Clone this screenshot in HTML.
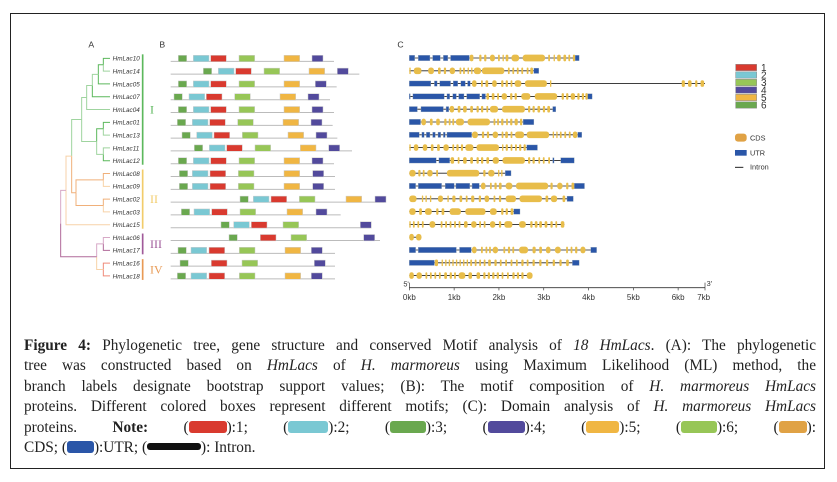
<!DOCTYPE html>
<html><head><meta charset="utf-8">
<style>
html,body{margin:0;padding:0;background:#fff;}
body{width:837px;height:482px;position:relative;overflow:hidden;font-family:"Liberation Sans",sans-serif;}
#frame{position:absolute;left:10px;top:13px;width:815px;height:456px;border:1.3px solid #222;box-sizing:border-box;}
#cap{position:absolute;left:24px;top:336px;width:792px;font-family:"Liberation Serif",serif;font-size:15.3px;color:#222;}
#cap .ln{height:20.4px;line-height:20.4px;text-align:justify;text-align-last:justify;white-space:nowrap;}
.sw{display:inline-block;height:12px;border-radius:3px;vertical-align:-1px;}
svg{position:absolute;left:0;top:0;}
</style></head><body>
<div id="frame"></div>
<svg id="fig" width="837" height="482">
  <g id="gAB" transform="translate(50,30) scale(0.33333)"></g>
  <g id="gC" transform="translate(390,30) scale(0.33333)"></g>
</svg>
<div id="cap">
<div class="ln"><b>Figure 4:</b> Phylogenetic tree, gene structure and conserved Motif analysis of <i>18 HmLacs</i>. (A): The phylogenetic</div>
<div class="ln">tree was constructed based on <i>HmLacs</i> of <i>H. marmoreus</i> using Maximum Likelihood (ML) method, the</div>
<div class="ln">branch labels designate bootstrap support values; (B): The motif composition of <i>H. marmoreus HmLacs</i></div>
<div class="ln">proteins. Different colored boxes represent different motifs; (C): Domain analysis of <i>H. marmoreus HmLacs</i></div>
<div class="ln">proteins. <b>Note:</b> (<span class="sw" style="width:38px;background:#d93a2f"></span>):1; (<span class="sw" style="width:40px;background:#7ac8d3"></span>):2; (<span class="sw" style="width:36px;background:#6aa84f"></span>):3; (<span class="sw" style="width:37px;background:#524a9c"></span>):4; (<span class="sw" style="width:33px;background:#f0b643"></span>):5; (<span class="sw" style="width:36px;background:#97c657"></span>):6; (<span class="sw" style="width:28px;background:#e0a245"></span>):</div>
<div class="ln" style="text-align-last:left">CDS; (<span class="sw" style="width:27px;background:#2a56a8"></span>):UTR; (<span class="sw" style="width:54px;background:#111;height:7px;vertical-align:2px"></span>): Intron.</div>
</div>
<script>
const NS="http://www.w3.org/2000/svg";
// ---- data ----
const genes=["HmLac10","HmLac14","HmLac05","HmLac07","HmLac04","HmLac01","HmLac13","HmLac11","HmLac12","HmLac08","HmLac09","HmLac02","HmLac03","HmLac15","HmLac06","HmLac17","HmLac16","HmLac18"];
const protLen=[490,566,498,478,490,486,500,544,490,493,493,640,510,598,628,493,493,493];
const m3=[23,98,23,10,23,20,34,71,23,26,26,208,32,151,175,22,28,20];
const m2=[68,143,68,55,68,65,78,116,68,65,65,248,70,189,null,61,null,61];
const m1=[120,195,120,107,120,117,130,168,120,118,118,301,123,242,269,115,122,115];
const m6=[205,280,205,192,205,201,215,253,205,203,203,386,208,337,361,206,214,206];
const m5=[340,415,340,328,340,337,352,389,340,340,340,526,349,null,null,343,null,343];
const m4=[424,500,434,412,424,421,436,474,424,426,426,613,436,569,579,422,431,422];
const geneLen=[3.79,2.89,6.6,4.08,3.27,2.78,3.85,2.86,3.68,2.27,3.91,3.66,2.47,3.46,0.27,4.18,3.79,2.75];
const utr=[
[[0,0.12],[0.2,0.46],[0.52,0.69],[0.76,0.86],[0.92,1.34],[3.7,3.79]],
[[2.78,2.89]],
[[0,0.48],[0.56,0.62],[0.68,0.92],[0.98,1.08],[1.15,1.25],[1.3,1.36]],
[[0,0.02],[0.08,0.78],[0.84,0.9],[0.97,1.05],[1.1,1.22],[1.28,1.57],[1.62,1.7],[3.98,4.08]],
[[0,0.18],[0.26,0.76],[0.82,0.88],[3.2,3.27]],
[[0,0.25],[2.54,2.78]],
[[0,0.22],[0.28,0.33],[0.38,0.46],[0.52,0.58],[0.64,0.7],[0.76,0.8],[0.84,1.39],[3.76,3.85]],
[[2.62,2.86]],
[[0,0.6],[0.66,0.9],[3.2,3.23],[3.38,3.68]],
[[2.14,2.27]],
[[0,0.14],[0.2,0.72],[0.8,1.0],[1.04,1.35],[1.4,1.56],[3.68,3.91]],
[[3.52,3.66]],
[[2.33,2.47]],
[],
[],
[[0,0.14],[0.2,1.05],[1.12,1.38],[4.05,4.18]],
[[0,0.56],[3.64,3.79]],
[]];
const cds=[
[[1.35,1.43],[1.56,1.61],[1.67,1.72],[1.8,1.91],[1.98,2.02],[2.08,2.11],[2.15,2.21],[2.28,2.45],[2.53,3.03],[3.1,3.14],[3.22,3.25],[3.3,3.38],[3.44,3.5],[3.55,3.59],[3.65,3.7]],
[[0,0.02],[0.1,0.27],[0.42,0.55],[0.64,0.7],[0.77,0.82],[0.9,1.02],[1.12,1.16],[1.2,1.24],[1.3,1.33],[1.38,1.4],[1.44,1.6],[1.62,2.12],[2.2,2.24],[2.3,2.34],[2.4,2.44],[2.5,2.54],[2.62,2.66],[2.7,2.76]],
[[1.4,1.5],[1.6,1.64],[1.7,1.76],[1.85,1.95],[2.05,2.1],[2.15,2.2],[2.26,2.3],[2.35,2.5],[2.58,3.07],[3.14,3.16],[6.08,6.15],[6.22,6.3],[6.38,6.43],[6.5,6.58]],
[[1.72,1.78],[1.84,1.9],[1.96,2.0],[2.06,2.18],[2.25,2.3],[2.35,2.4],[2.5,2.7],[2.8,3.3],[3.4,3.45],[3.5,3.55],[3.6,3.7],[3.75,3.8],[3.85,3.9],[3.93,3.98]],
[[0.9,1.0],[1.08,1.14],[1.2,1.28],[1.36,1.42],[1.5,1.55],[1.6,1.65],[1.72,1.76],[1.8,1.98],[2.07,2.58],[2.65,2.7],[2.75,2.8],[2.86,2.92],[2.98,3.03],[3.08,3.14]],
[[0.27,0.37],[0.46,0.52],[0.6,0.68],[0.78,0.83],[0.88,0.92],[0.96,1.0],[1.04,1.22],[1.3,1.8],[1.88,1.92],[1.96,2.0],[2.05,2.1],[2.16,2.2],[2.25,2.3],[2.35,2.42],[2.47,2.52]],
[[1.4,1.53],[1.62,1.67],[1.73,1.78],[1.86,1.98],[2.06,2.1],[2.14,2.2],[2.26,2.3],[2.36,2.56],[2.62,3.12],[3.2,3.22],[3.28,3.3],[3.36,3.4],[3.46,3.5],[3.56,3.6],[3.65,3.75]],
[[0,0.02],[0.1,0.2],[0.3,0.4],[0.48,0.54],[0.62,0.68],[0.76,0.88],[0.96,1.0],[1.05,1.1],[1.15,1.2],[1.25,1.43],[1.5,2.0],[2.07,2.1],[2.15,2.2],[2.26,2.3],[2.36,2.4],[2.45,2.5],[2.55,2.6]],
[[0.92,1.0],[1.08,1.12],[1.2,1.28],[1.36,1.42],[1.5,1.55],[1.6,1.65],[1.72,1.78],[1.86,2.0],[2.08,2.58],[2.65,2.7],[2.75,2.8],[2.88,2.92],[2.98,3.02],[3.1,3.14]],
[[0,0.14],[0.2,0.25],[0.3,0.34],[0.4,0.52],[0.6,0.64],[0.84,1.56],[1.65,1.7],[1.76,1.9],[1.98,2.0],[2.05,2.08]],
[[1.6,1.7],[1.8,1.84],[1.9,1.95],[2.0,2.06],[2.15,2.3],[2.38,3.1],[3.15,3.2],[3.3,3.42],[3.5,3.55],[3.62,3.68]],
[[0,0.16],[0.28,0.3],[0.36,0.38],[0.46,0.48],[0.64,0.75],[0.85,0.88],[0.96,1.03],[1.12,1.18],[1.26,1.3],[1.38,1.45],[1.55,1.6],[1.68,1.78],[1.88,1.92],[2.0,2.05],[2.15,2.38],[2.46,2.96],[3.04,3.1],[3.16,3.3],[3.42,3.48]],
[[0,0.14],[0.22,0.28],[0.35,0.5],[0.6,0.65],[0.72,0.78],[0.9,1.15],[1.25,1.7],[1.8,1.95],[2.05,2.1],[2.15,2.2],[2.26,2.32]],
[[0,0.02],[0.08,0.12],[0.18,0.22],[0.28,0.32],[0.45,0.58],[0.7,0.74],[0.8,0.84],[0.9,0.94],[1.0,1.04],[1.1,1.14],[1.22,1.3],[1.38,1.5],[1.56,1.6],[1.66,1.7],[1.8,1.92],[2.0,2.05],[2.12,2.3],[2.45,2.6],[2.7,2.75],[2.8,2.86],[2.9,2.96],[3.02,3.08],[3.15,3.2],[3.26,3.3],[3.38,3.46]],
[[0,0.1],[0.15,0.27]],
[[1.4,1.5],[1.6,1.64],[1.7,1.74],[1.78,1.82],[1.86,1.98],[2.1,2.14],[2.2,2.25],[2.3,2.34],[2.45,2.65],[2.75,2.82],[2.9,2.96],[3.05,3.15],[3.25,3.38],[3.5,3.54],[3.6,3.64],[3.7,3.75],[3.82,3.93]],
[[0.57,0.64],[0.72,0.75],[0.8,0.83],[0.88,0.91],[0.96,0.99],[1.04,1.07],[1.12,1.15],[1.2,1.23],[1.28,1.31],[1.36,1.4],[1.46,1.5],[1.56,1.6],[1.66,1.7],[1.76,1.82],[1.9,1.95],[2.02,2.06],[2.14,2.18],[2.26,2.3],[2.38,2.42],[2.5,2.55],[2.62,2.66],[2.75,2.8],[2.9,2.95],[3.05,3.1],[3.2,3.25],[3.35,3.4],[3.5,3.56]],
[[0,0.1],[0.16,0.28],[0.36,0.4],[0.46,0.5],[0.56,0.6],[0.66,0.7],[0.78,0.84],[0.9,0.95],[1.0,1.04],[1.1,1.25],[1.32,1.4],[1.5,1.58],[1.65,1.7],[1.75,1.8],[1.85,1.9],[1.95,2.0],[2.06,2.1],[2.18,2.22],[2.3,2.35],[2.4,2.45],[2.5,2.55],[2.62,2.75]]];
const kbTicks=[0,1,2,3,4,5,6];
const kbLabels=["0kb","1kb","2kb","3kb","4kb","5kb","6kb"];
const axisMaxKb=6.6;

function el(tag,attrs,parent){const e=document.createElementNS(NS,tag);for(const k in attrs)e.setAttribute(k,attrs[k]);parent.appendChild(e);return e;}
function txt(s,attrs,parent){const t=el("text",attrs,parent);t.textContent=s;return t;}

// ---- Panel A/B (zoom coordinates) ----
const AB=document.getElementById("gAB");
const rowY=i=>85+i*38.4;
const t1=txt("A",{x:115,y:52,"font-size":26,fill:"#333"},AB);


const t2=txt("B",{x:328,y:52,"font-size":26,fill:"#333"},AB);


// tree
const tree=el("g",{fill:"none","stroke-width":3},AB);


const G1="#5cb85c",G2="#9fd49f",O1="#f0b07a",O2="#f7d2a8",P1="#b06a9a",P2="#d7a9c6",R1="#ef8a7a";
function hv(x1,y1,x2,y2,c){el("path",{d:`M${x1},${y1}V${y2}H${x2}`,stroke:c},tree);}
function node(x,ya,yb,xa,xb,ca,cb){ // node at x connecting children at (xa,ya),(xb,yb)
  const m=(ya+yb)/2; hv(x,m,xa,ya,ca); hv(x,m,xb,yb,cb); return m;}
const L=180;
const n1=node(160,rowY(0),rowY(1),L,L,G1,G2);
const n2=node(145,n1,rowY(2),160,L,G1,G1);
const n3=node(127,n2,rowY(3),145,L,G2,G1);
const n4=node(110,n3,rowY(4),127,L,G2,G2);
const n5=node(160,rowY(5),rowY(6),L,L,G1,G2);
const n6=node(160,rowY(7),rowY(8),L,L,G2,G1);
const n7=node(140,n5,n6,160,160,G1,G2);
const n8=node(95,n4,n7,110,140,G2,G2);
const n9=node(160,rowY(9),rowY(10),L,L,O1,O2);
const n10=node(160,rowY(11),rowY(12),L,L,O1,O2);
const n11=node(78,n9,n10,160,160,O1,O1);
const n12=node(65,n8,n11,95,78,G2,O1);
const n13=node(48,n12,rowY(13),65,L,O2,O2);
const n14=node(160,rowY(14),rowY(15),L,L,P2,P1);
const n15=node(160,rowY(16),rowY(17),L,L,R1,R1);
const n16=node(140,n14,n15,160,160,P2,O2);
node(32,n13,n16,48,140,P2,P1);
// clade bars
const clades=[["I",0,8,"#5cb85c"],["II",9,13,"#f2cc6a"],["III",14,15,"#a05a9a"],["IV",16,17,"#e89a55"]];
clades.forEach(c=>{
  const b=el("line",{x1:278,x2:278,y1:rowY(c[1])-12,y2:rowY(c[2])+12,stroke:c[3],"stroke-width":5},AB);
  
  
  const t=txt(c[0],{x:300,y:(rowY(c[1])+rowY(c[2]))/2+12,"font-size":36,"font-family":"Liberation Serif,serif",fill:c[3]},AB);
  
  
});
// leaves + motifs
const motifDefs=[[m3,25,"#6aa84f"],[m2,47,"#7ac8d3"],[m1,47,"#d93a2f"],[m6,47,"#97c657"],[m5,47,"#f0b643"],[m4,33,"#524a9c"]];
const bx=aa=>362+aa;
genes.forEach((g,i)=>{
  const y=rowY(i);
  const t=txt(g,{x:188,y:y+7,"font-size":19,"font-style":"italic",fill:"#333"},AB);
  
  
  const ln=el("line",{x1:bx(0),x2:bx(protLen[i]),y1:y+9,y2:y+9,stroke:"#bbb","stroke-width":3},AB);
  
  
  motifDefs.forEach(md=>{
    const v=md[0][i]; if(v==null)return;
    const r=el("rect",{x:bx(v),y:y-9,width:md[1],height:19,fill:md[2],stroke:"#ccc","stroke-width":1.5},AB);
    
    
  });
});

// ---- Panel C ----
const C=document.getElementById("gC");
const cy=i=>84+i*38.4;
const kx=kb=>58+kb*134.4;
const t3=txt("C",{x:22,y:52,"font-size":26,fill:"#333"},C);


genes.forEach((g,i)=>{
  const y=cy(i);
  const ln=el("line",{x1:kx(0),x2:kx(geneLen[i]),y1:y,y2:y,stroke:"#222","stroke-width":2.5},C);
  
  
  utr[i].forEach(s=>{
    const r=el("rect",{x:kx(s[0]),y:y-8,width:Math.max(3,kx(s[1])-kx(s[0])),height:16,fill:"#2a56a8",stroke:"#9ab","stroke-width":1},C);
    
    
  });
  cds[i].forEach(s=>{
    const w=Math.max(4,kx(s[1])-kx(s[0]));
    const r=el("rect",{x:kx(s[0]),y:y-10,width:w,height:20,rx:Math.min(8,w/2),fill:"#e8bd4a"},C);
    
    
  });
});
// axis
const ax=el("line",{x1:kx(0),x2:kx(axisMaxKb),y1:773,y2:773,stroke:"#333","stroke-width":2.5},C);


kbTicks.forEach((k,j)=>{
  el("line",{x1:kx(k),x2:kx(k),y1:773,y2:781,stroke:"#333","stroke-width":2},C);
  const t=txt(kbLabels[j],{x:kx(k),y:810,"font-size":24,"text-anchor":"middle",fill:"#333"},C);
  
  
});
el("line",{x1:kx(axisMaxKb),x2:kx(axisMaxKb),y1:773,y2:781,stroke:"#333","stroke-width":2},C);
const t7=txt("7kb",{x:kx(axisMaxKb)-4,y:810,"font-size":24,"text-anchor":"middle",fill:"#333"},C);


el("line",{x1:kx(0),x2:kx(0),y1:758,y2:773,stroke:"#333","stroke-width":2},C);
el("line",{x1:kx(axisMaxKb),x2:kx(axisMaxKb),y1:758,y2:773,stroke:"#333","stroke-width":2},C);
txt("5'",{x:40,y:770,"font-size":22,fill:"#333"},C);
txt("3'",{x:950,y:768,"font-size":22,fill:"#333"},C);
// legend
const legCols=["#d93a2f","#7ac8d3","#97c657","#524a9c","#f0b643","#6aa84f"];
const legLabs=["1","2","3","4","5","6"];
legCols.forEach((c,j)=>{
  const y=103+j*22.5;
  const r=el("rect",{x:1037,y:y,width:63,height:19,fill:c,stroke:"#888","stroke-width":1.5},C);
  
  
  const t=txt(legLabs[j],{x:1113,y:y+20,"font-size":30,fill:"#333"},C);
  
  
});
const lc=el("rect",{x:1035,y:311,width:35,height:24,rx:9,fill:"#e0a245"},C);


txt("CDS",{x:1080,y:331,"font-size":22,fill:"#333"},C);
const lu=el("rect",{x:1035,y:360,width:35,height:17,fill:"#2a56a8"},C);


txt("UTR",{x:1080,y:376,"font-size":22,fill:"#333"},C);
el("line",{x1:1035,x2:1060,y1:412,y2:412,stroke:"#222","stroke-width":3},C);
txt("Intron",{x:1080,y:419,"font-size":22,fill:"#333"},C);
</script>
</body></html>
